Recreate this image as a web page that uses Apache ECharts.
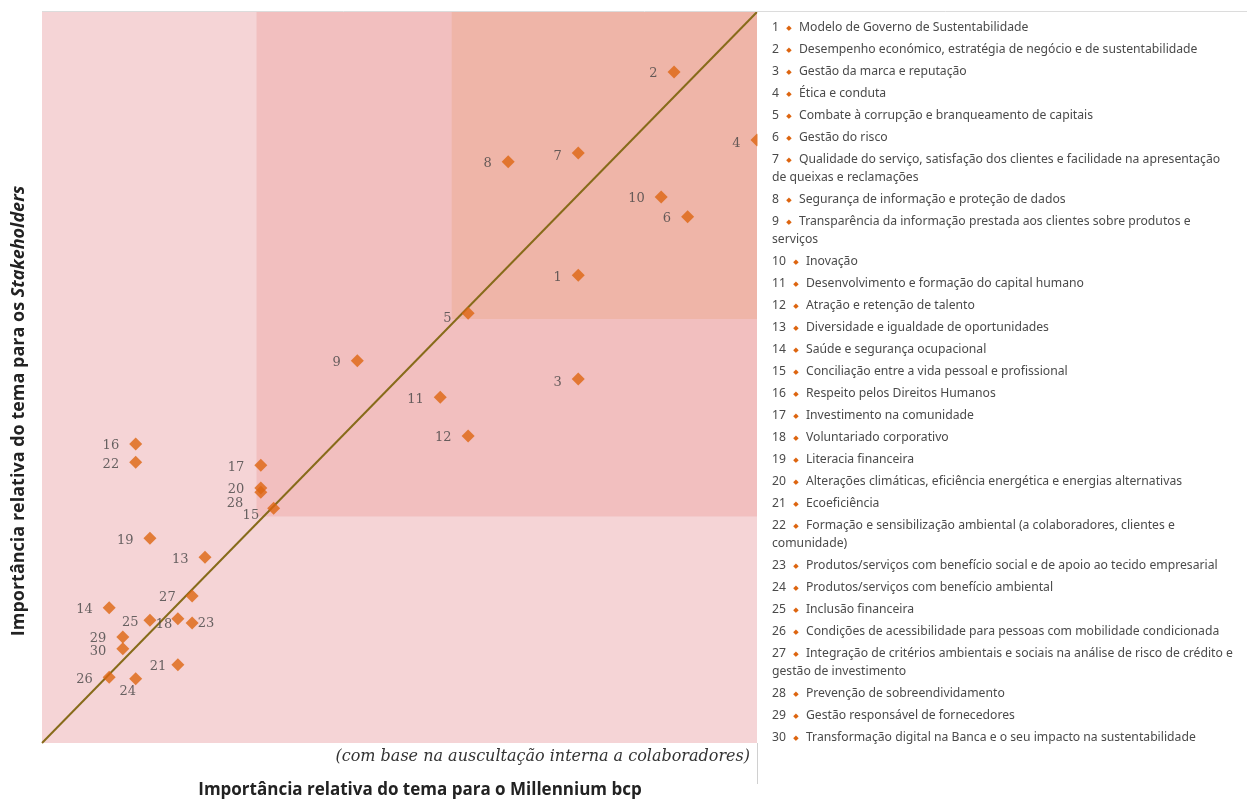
<!DOCTYPE html>
<html>
<head>
<meta charset="utf-8">
<title>Matriz de materialidade</title>
<script src="https://cdn.jsdelivr.net/npm/echarts@6/dist/echarts.min.js"></script>
<style>
  html, body { margin: 0; padding: 0; background: #fff; }
  #main { width: 1247px; height: 800px; }
</style>
</head>
<body>
<div id="main"></div>
<script>
// temas materiais (legenda)
var topics = [
  'Modelo de Governo de Sustentabilidade',
  'Desempenho económico, estratégia de negócio e de sustentabilidade',
  'Gestão da marca e reputação',
  'Ética e conduta',
  'Combate à corrupção e branqueamento de capitais',
  'Gestão do risco',
  'Qualidade do serviço, satisfação dos clientes e facilidade na apresentação de queixas e reclamações',
  'Segurança de informação e proteção de dados',
  'Transparência da informação prestada aos clientes sobre produtos e serviços',
  'Inovação',
  'Desenvolvimento e formação do capital humano',
  'Atração e retenção de talento',
  'Diversidade e igualdade de oportunidades',
  'Saúde e segurança ocupacional',
  'Conciliação entre a vida pessoal e profissional',
  'Respeito pelos Direitos Humanos',
  'Investimento na comunidade',
  'Voluntariado corporativo',
  'Literacia financeira',
  'Alterações climáticas, eficiência energética e energias alternativas',
  'Ecoeficiência',
  'Formação e sensibilização ambiental (a colaboradores, clientes e comunidade)',
  'Produtos/serviços com benefício social e de apoio ao tecido empresarial',
  'Produtos/serviços com benefício ambiental',
  'Inclusão financeira',
  'Condições de acessibilidade para pessoas com mobilidade condicionada',
  'Integração de critérios ambientais e sociais na análise de risco de crédito e gestão de investimento',
  'Prevenção de sobreendividamento',
  'Gestão responsável de fornecedores',
  'Transformação digital na Banca e o seu impacto na sustentabilidade'
];

// importância para o Millennium bcp (x) e para os Stakeholders (y), escala 0-100
var millenniumX = [75.0, 88.4, 75.0, 100, 59.6, 90.3, 75.0, 65.2, 44.1, 86.6,
                   55.7, 59.6, 22.8, 9.4, 32.4, 13.1, 30.6, 19.0, 15.1, 30.6,
                   19.0, 13.1, 21.0, 13.1, 15.1, 9.4, 21.0, 30.6, 11.3, 11.3];
var stakeholdersY = [64.0, 91.8, 49.8, 82.5, 58.8, 72.0, 80.7, 79.5, 52.3, 74.7,
                     47.3, 42.0, 25.4, 18.5, 32.1, 40.9, 38.0, 17.0, 28.0, 34.9,
                     10.7, 38.4, 16.4, 8.8, 16.8, 9.0, 20.1, 34.3, 14.5, 12.9];

// limites das zonas e diagonal
var zoneMidX = 30, zoneMidY = 31;
var zoneHighX = 57.3, zoneHighY = 58;
var diagonal = [[0, 0], [100, 100]];

var xTitle = 'Importância relativa do tema para o Millennium bcp';
var yTitle = 'Importância relativa do tema para os ';
var yTitleItalic = 'Stakeholders';
var note = '(com base na auscultação interna a colaboradores)';

var orange = '#dd6510';

// ajustes das etiquetas que não ficam à esquerda
var labelTweak = {
  3: { offset: [0, 4] },
  4: { offset: [0, 4] },
  5: { offset: [0, 5] },
  7: { offset: [0, 4] },
  15: { offset: [2, 7] },
  18: { offset: [11, 6] },
  21: { distance: 5 },
  23: { position: 'right', distance: -1, offset: [0, 1] },
  24: { position: 'bottom', distance: 0, offset: [-8, 0] },
  25: { distance: 5 },
  28: { offset: [-1, 11] },
  30: { offset: [0, 3] }
};

var points = millenniumX.map(function (x, i) {
  var p = { name: String(i + 1), value: [x, stakeholdersY[i]] };
  if (labelTweak[i + 1]) p.label = labelTweak[i + 1];
  return p;
});

// legenda: quebra de linha feita à mão
var cv = document.createElement('canvas').getContext('2d');
var txtFont = '12.2px "Noto Sans"';
function textW(font, s) { cv.font = font; return cv.measureText(s).width; }
var legX = 772, legRight = 1235, legTop = 19, lineH = 18, gap = 4;

var legend = [];
var yy = legTop;
topics.forEach(function (t, i) {
  var num = String(i + 1);
  var avail = legRight - legX - textW(txtFont, num) - 20;
  var words = t.split(' '), lines = [], cur = '';
  words.forEach(function (w) {
    var test = cur ? cur + ' ' + w : w;
    if (cur && textW(txtFont, test) > avail) {
      lines.push(cur); cur = w; avail = legRight - legX;
    } else cur = test;
  });
  lines.push(cur);
  var str = '{n|' + num + '}{d|◆}{t|' + lines[0] + '}';
  for (var k = 1; k < lines.length; k++) str += '\n{t|' + lines[k] + '}';
  legend.push({
    type: 'text', x: legX, y: yy, z: 110,
    style: {
      text: str, verticalAlign: 'top', textVerticalAlign: 'top',
      rich: {
        n: { font: txtFont, fill: '#4a4a4a', color: '#4a4a4a', lineHeight: lineH },
        d: { font: '7px "DejaVu Sans"', fill: orange, color: orange, width: 20, align: 'center', lineHeight: lineH },
        t: { font: txtFont, fill: '#4a4a4a', color: '#4a4a4a', lineHeight: lineH }
      }
    }
  });
  yy += lines.length * lineH + gap;
});

var myChart = echarts.init(document.getElementById('main'));
var option = {
  animation: false,
  grid: { left: 42, top: 12, width: 715, height: 731, show: true, backgroundColor: '#f5d4d6', borderWidth: 0 },
  xAxis: { type: 'value', min: 0, max: 100, show: false },
  yAxis: { type: 'value', min: 0, max: 100, show: false },
  series: [
    {
      // zonas de materialidade
      type: 'line', data: [], z: 1, silent: true,
      markArea: {
        silent: true,
        data: [
          [{ xAxis: zoneMidX, yAxis: zoneMidY, itemStyle: { color: '#f2bfbf' } }, { xAxis: 100, yAxis: 100 }],
          [{ xAxis: zoneHighX, yAxis: zoneHighY, itemStyle: { color: '#efb5a8' } }, { xAxis: 100, yAxis: 100 }]
        ]
      }
    },
    {
      type: 'line', data: diagonal, z: 3, silent: true, symbol: 'none',
      lineStyle: { color: '#876b1a', width: 2 }
    },
    {
      type: 'scatter', data: points, z: 4,
      symbol: 'diamond', symbolSize: 13,
      itemStyle: { color: orange },
      label: {
        show: true, formatter: '{b}', position: 'left', distance: 10, offset: [0, 2],
        fontFamily: 'DejaVu Serif', fontSize: 13, color: '#444'
      }
    }
  ],
  graphic: [
    { type: 'rect', z: 100, shape: { x: 757.5, y: 11.5, width: 500, height: 773 },
      style: { fill: '#fff', stroke: null } },
    { type: 'line', z: 101, shape: { x1: 42, y1: 11.5, x2: 1247, y2: 11.5 }, style: { stroke: '#dcdcdc', lineWidth: 1 } },
    { type: 'line', z: 101, shape: { x1: 757.5, y1: 743, x2: 757.5, y2: 784 }, style: { stroke: '#d0d0d0', lineWidth: 1 } },
    { type: 'text', z: 101, x: 750, y: 757,
      style: { text: note, font: 'italic 16px "DejaVu Serif"', fill: '#333', align: 'right', textAlign: 'right', verticalAlign: 'middle', textVerticalAlign: 'middle' } },
    { type: 'text', z: 101, x: 420, y: 790,
      style: { text: xTitle, font: 'bold 17px "Open Sans"', fill: '#222', align: 'center', textAlign: 'center', verticalAlign: 'middle', textVerticalAlign: 'middle' } },
    { type: 'text', z: 101, x: 19, y: 411, rotation: Math.PI / 2,
      style: {
        text: '{b|' + yTitle + '}{i|' + yTitleItalic + '}', align: 'center', textAlign: 'center', verticalAlign: 'middle', textVerticalAlign: 'middle',
        rich: {
          b: { font: 'bold 18px "Open Sans"', fill: '#222', color: '#222' },
          i: { font: 'italic bold 18px "Open Sans"', fill: '#222', color: '#222' }
        }
      } }
  ].concat(legend)
};
myChart.setOption(option);
</script>
</body>
</html>
